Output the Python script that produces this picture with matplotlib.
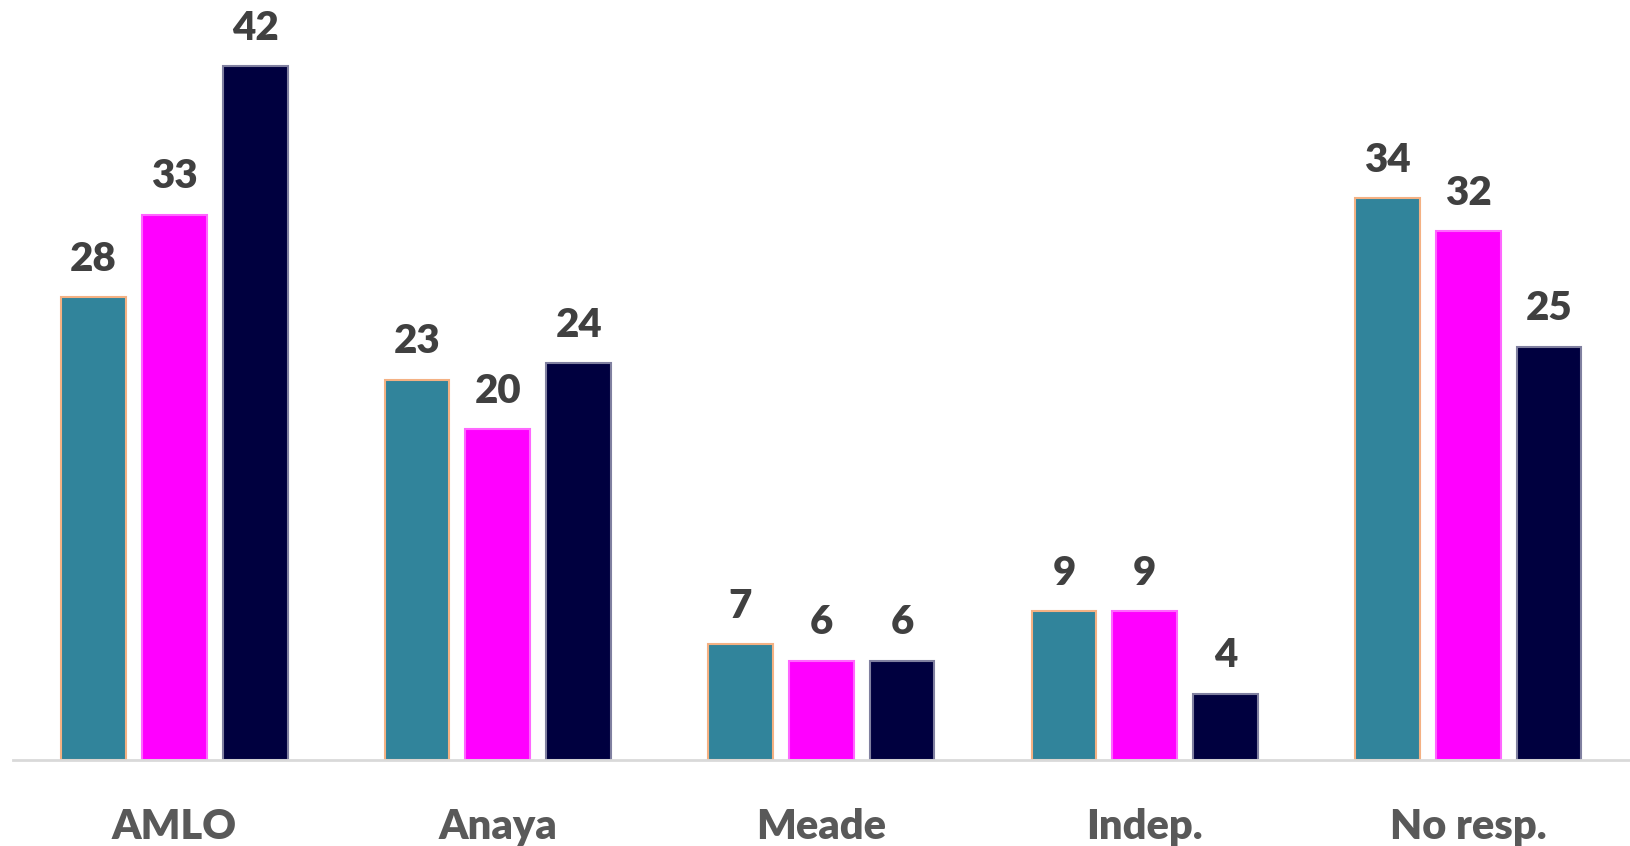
import matplotlib.pyplot as plt
import numpy as np

CATEGORIES = ['AMLO', 'Anaya', 'Meade', 'Indep.', 'No resp.']
SERIES_1 = [28, 23, 7, 9, 34]
SERIES_2 = [33, 20, 6, 9, 32]
SERIES_3 = [42, 24, 6, 4, 25]

COLORS = ['#31849B', '#FF00FF', '#00003F']
EDGES = ['#F4B183', '#FF66FF', '#8080A0']

plt.rcParams['font.family'] = ['Lato', 'DejaVu Sans']

fig = plt.figure(figsize=(16.3, 8.46), dpi=100)
ax = fig.add_axes([0.0077, 0.102, 0.9923, 0.898])

x = np.arange(len(CATEGORIES))
width = 0.2
step = 0.25
for i, vals in enumerate([SERIES_1, SERIES_2, SERIES_3]):
    bars = ax.bar(x + (i - 1) * step, vals, width, color=COLORS[i],
                  edgecolor=EDGES[i], linewidth=1.5, zorder=2)
    for b, v in zip(bars, vals):
        ax.annotate(str(v), (b.get_x() + b.get_width() / 2, v),
                    xytext=(0, 14), textcoords='offset points',
                    ha='center', va='bottom', fontsize=29,
                    fontweight='heavy', color='#404040')

ax.set_xlim(-0.5, 4.5)
ax.set_ylim(0, 46)
ax.set_yticks([])
ax.set_xticks(x)
ax.set_xticklabels(CATEGORIES, fontsize=30, fontweight='heavy', color='#595959')
ax.tick_params(axis='x', length=0, pad=35)
for s in ['top', 'right', 'left']:
    ax.spines[s].set_visible(False)
ax.spines['bottom'].set_color('#D9D9D9')
ax.spines['bottom'].set_linewidth(2)

fig.savefig('out.png', dpi=100)
